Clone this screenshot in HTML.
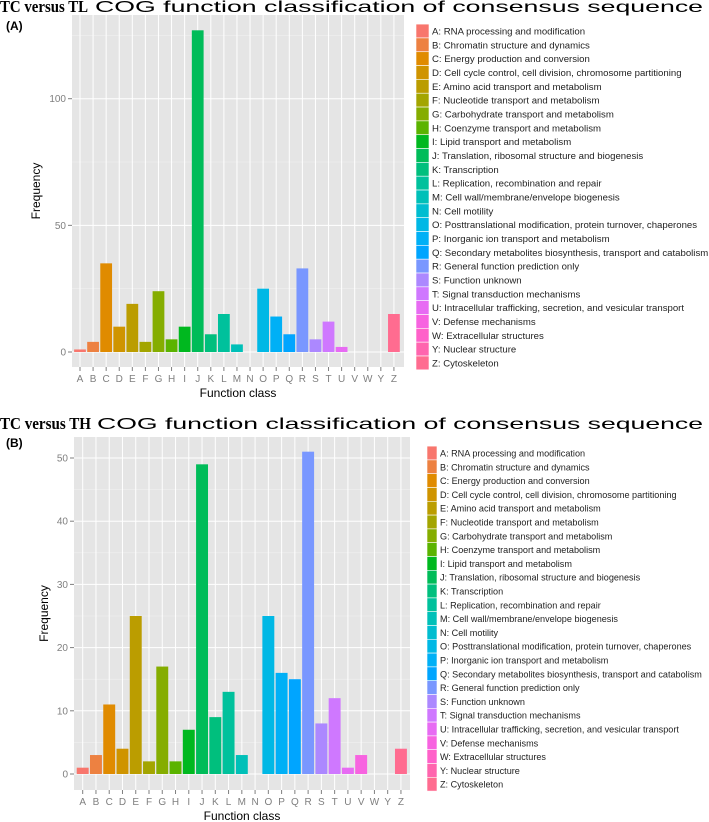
<!DOCTYPE html>
<html><head><meta charset="utf-8">
<style>
body{margin:0;background:#fff;width:709px;height:822px;overflow:hidden;font-family:"Liberation Sans",sans-serif}
svg{display:block}
</style></head>
<body>
<svg id="c" width="709" height="822" xmlns="http://www.w3.org/2000/svg"></svg>
<script>
const categories = ["A","B","C","D","E","F","G","H","I","J","K","L","M","N","O","P","Q","R","S","T","U","V","W","Y","Z"];
const labels = ["A: RNA processing and modification","B: Chromatin structure and dynamics","C: Energy production and conversion","D: Cell cycle control, cell division, chromosome partitioning","E: Amino acid transport and metabolism","F: Nucleotide transport and metabolism","G: Carbohydrate transport and metabolism","H: Coenzyme transport and metabolism","I: Lipid transport and metabolism","J: Translation, ribosomal structure and biogenesis","K: Transcription","L: Replication, recombination and repair","M: Cell wall/membrane/envelope biogenesis","N: Cell motility","O: Posttranslational modification, protein turnover, chaperones","P: Inorganic ion transport and metabolism","Q: Secondary metabolites biosynthesis, transport and catabolism","R: General function prediction only","S: Function unknown","T: Signal transduction mechanisms","U: Intracellular trafficking, secretion, and vesicular transport","V: Defense mechanisms","W: Extracellular structures","Y: Nuclear structure","Z: Cytoskeleton"];
const valuesTL = [1,4,35,10,19,4,24,5,10,127,7,15,3,0,25,14,7,33,5,12,2,0,0,0,15];
const valuesTH = [1,3,11,4,25,2,17,2,7,49,9,13,3,0,25,16,15,51,8,12,1,3,0,0,4];
const ticksTL = [0,50,100];
const ticksTH = [0,10,20,30,40,50];

function hcl(h,c,l){
  const hr=h*Math.PI/180, L=l, a=Math.cos(hr)*c, b=Math.sin(hr)*c;
  const Xn=95.047,Yn=100,Zn=108.883;
  const un=4*Xn/(Xn+15*Yn+3*Zn), vn=9*Yn/(Xn+15*Yn+3*Zn);
  const Y = L>8 ? Yn*Math.pow((L+16)/116,3) : Yn*L/903.3;
  const u=a/(13*L)+un, v=b/(13*L)+vn;
  const X=Y*9*u/(4*v), Z=Y*(12-3*u-20*v)/(4*v);
  const x=X/100,y=Y/100,z=Z/100;
  let r=3.2406*x-1.5372*y-0.4986*z, g=-0.9689*x+1.8758*y+0.0415*z, bb=0.0557*x-0.2040*y+1.0570*z;
  const f=t=>{t=t<=0.0031308?12.92*t:1.055*Math.pow(t,1/2.4)-0.055;return Math.round(Math.max(0,Math.min(1,t))*255);};
  return `rgb(${f(r)},${f(g)},${f(bb)})`;
}
const colors = categories.map((_,i)=>hcl(15+360*i/25,100,65));
const svg=document.getElementById('c');
const NS='http://www.w3.org/2000/svg';
function el(tag,attrs,parent,text){const e=document.createElementNS(NS,tag);for(const k in attrs)e.setAttribute(k,attrs[k]);if(text!==undefined)e.textContent=text;(parent||svg).appendChild(e);return e;}

function panel(cfg){
  const g=el('g',{});
  
  
  const t=el('g',{},g);
  
  
  el('text',{x:0,y:cfg.titleY,'font-family':'Liberation Serif, serif','font-weight':'bold','font-size':17,textLength:cfg.boldW,lengthAdjust:'spacingAndGlyphs'},t,cfg.title);
  el('text',{x:cfg.sansX,y:cfg.titleY,'font-family':'Liberation Sans, sans-serif','font-size':16,textLength:703-cfg.sansX,lengthAdjust:'spacingAndGlyphs'},t,'COG  function classification of consensus sequence');
  const pl=el('text',{x:6,y:cfg.titleY+18,'font-size':12,'font-weight':'bold'},g,cfg.letter);
  
  
  const bg=el('rect',{x:cfg.x0,y:cfg.y0,width:cfg.x1-cfg.x0,height:cfg.y1-cfg.y0,fill:'#e5e5e5'},g);
  
  
  const yS=v=>cfg.zeroY-v*cfg.ppu;
  const xS=i=>cfg.ax+i*cfg.step;
  const dt=cfg.ticks[1]-cfg.ticks[0];
  for(let v=-dt/2;v<=cfg.ticks[cfg.ticks.length-1]+dt;v+=dt){const y=yS(v);if(y>cfg.y0&&y<cfg.y1)el('line',{x1:cfg.x0,x2:cfg.x1,y1:y,y2:y,stroke:'#f2f2f2','stroke-width':0.5},g);}
  cfg.ticks.forEach(v=>{const y=yS(v);el('line',{x1:cfg.x0,x2:cfg.x1,y1:y,y2:y,stroke:'#fff','stroke-width':1},g);
    el('line',{x1:cfg.x0-4,x2:cfg.x0,y1:y,y2:y,stroke:'#7f7f7f'},g);
    const tl=el('text',{x:cfg.x0-6,y:y+3.5,'text-anchor':'end','font-size':10,fill:'#7f7f7f'},g,v);
    
    });
  categories.forEach((c,i)=>{const x=xS(i);el('line',{x1:x,x2:x,y1:cfg.y0,y2:cfg.y1,stroke:'#fff','stroke-width':1},g);
    el('line',{x1:x,x2:x,y1:cfg.y1,y2:cfg.y1+4,stroke:'#7f7f7f'},g);
    const xl=el('text',{x:x,y:cfg.y1+15,'text-anchor':'middle','font-size':10,fill:'#7f7f7f'},g,c);
    
    });
  const bw=cfg.step*0.9;
  cfg.values.forEach((v,i)=>{if(v<=0)return;const r=el('rect',{x:xS(i)-bw/2,y:yS(v),width:bw,height:v*cfg.ppu,fill:colors[i]},g);
    
    });
  const xt=el('text',{x:(cfg.x0+cfg.x1)/2,y:cfg.y1+30,'text-anchor':'middle','font-size':12},g,'Function class');
  
  
  const yy=(cfg.y0+cfg.y1)/2;
  const yt=el('text',{x:cfg.ytx,y:yy,'text-anchor':'middle','font-size':12,transform:`rotate(-90 ${cfg.ytx} ${yy})`},g,'Frequency');
  
  
  labels.forEach((l,i)=>{const cy=cfg.ly+i*cfg.lstep;
    const lg=el('g',{},g);
    
    
    el('rect',{x:cfg.lx,y:cy-cfg.lstep/2,width:cfg.lw,height:cfg.lstep,fill:colors[i],stroke:'#fff','stroke-width':0.6},lg);
    el('text',{x:cfg.lx+cfg.lw+3,y:cy+3.5,'font-size':cfg.lfs,fill:'#222'},lg,l);});
}
panel({name:'chart-tc-vs-tl',title:'TC versus TL',letter:'(A)',titleY:12,boldW:88,sansX:95,x0:72,x1:404,y0:15,y1:367,zeroY:352,ppu:2.533,ax:80,step:13.08,ticks:ticksTL,values:valuesTL,ytx:40,lx:416,lw:13,ly:31,lstep:13.83,lfs:9.6});
panel({name:'chart-tc-vs-th',title:'TC versus TH',letter:'(B)',titleY:429,boldW:91,sansX:97,x0:74,x1:410,y0:437,y1:790,zeroY:774,ppu:6.32,ax:82.7,step:13.26,ticks:ticksTH,values:valuesTH,ytx:48,lx:427,lw:10,ly:453,lstep:13.8,lfs:9.1});
</script>
</body></html>
